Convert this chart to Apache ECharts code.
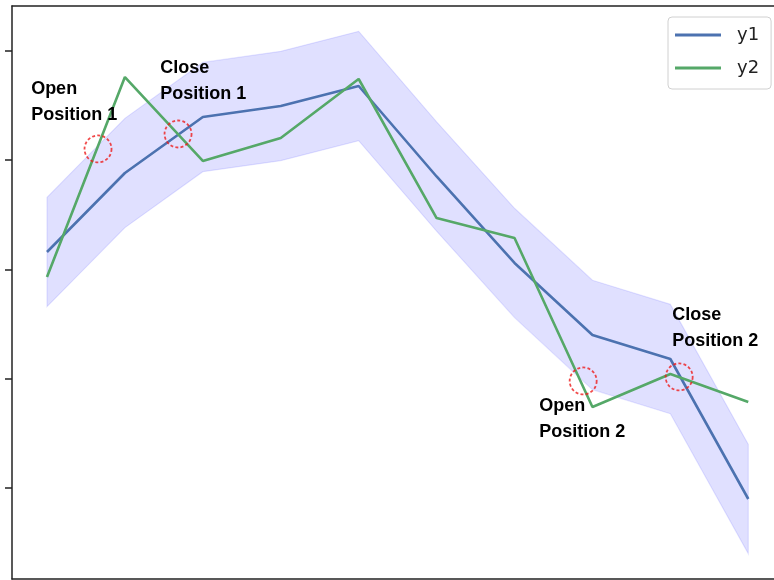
<!DOCTYPE html>
<html><head><meta charset="utf-8">
<script src="https://cdn.jsdelivr.net/npm/echarts@6/dist/echarts.min.js"></script>
<style>html,body{margin:0;padding:0;background:#fff}#c{width:774px;height:580px}</style>
</head><body><div id="c"></div>
<script>
// ---- data ----
const xs = [0, 1, 2, 3, 4, 5, 6, 7, 8, 9];
const y1 = [2.159, 2.882, 3.394, 3.495, 3.678, 2.85, 2.059, 1.40, 1.18, -0.101];
const y2 = [1.930, 3.760, 2.992, 3.202, 3.742, 2.470, 2.287, 0.741, 1.043, 0.787];
const bandHalf = [0.5];
const yTicks = [0, 1, 2, 3, 4];
const eventX = [0.655, 1.682, 6.881, 8.113];
const eventY = [3.102, 3.239, 0.979, 1.016];
const eventText = ['Open\nPosition 1', 'Close\nPosition 1', 'Open\nPosition 2', 'Close\nPosition 2'];
const seriesNames = ['y1', 'y2'];

// ---- styling ----
const labelOffsets = [[-66, -72], [-17, -78], [-43, 13], [-6, -74]];
const symSize = 27;
const spine = {show: true, onZero: false, lineStyle: {color: '#222', width: 1.5}};

const chart = echarts.init(document.getElementById('c'), null, {renderer: 'canvas'});
const bandData = xs.map((x, i) => [x, y1[i] - bandHalf[0], y1[i] + bandHalf[0]]);

chart.setOption({
  animation: false,
  grid: {left: 12, top: 6, right: 0, bottom: 1, show: false},
  xAxis: [
    {type: 'value', min: -0.449, max: 9.33, position: 'bottom',
      axisLine: spine, axisTick: {show: false}, axisLabel: {show: false}, splitLine: {show: false}},
    {type: 'value', min: -0.449, max: 9.33, position: 'top',
      axisLine: spine, axisTick: {show: false}, axisLabel: {show: false}, splitLine: {show: false}}
  ],
  yAxis: {type: 'value', min: -0.833, max: 4.41,
    axisLine: spine,
    axisTick: {show: true, customValues: yTicks, length: 7, inside: false, lineStyle: {color: '#222', width: 1.5}},
    axisLabel: {show: false}, splitLine: {show: false}},
  legend: {
    data: seriesNames.map(n => ({name: n, icon: 'rect'})), orient: 'vertical', left: 668, top: 17,
    padding: [7, 12, 10, 7], itemWidth: 46, itemHeight: 3, itemGap: 11,
    backgroundColor: 'rgba(255,255,255,0.8)', borderColor: '#d0d0d0', borderWidth: 1, borderRadius: 4,
    textStyle: {fontFamily: 'DejaVu Sans', fontSize: 18, lineHeight: 22, color: '#222', padding: [0, 0, 0, 11]}
  },
  series: [
    {
      type: 'custom', name: 'band', silent: true, z: 1,
      data: bandData, encode: {x: 0, y: [1, 2]},
      renderItem: function (params, api) {
        if (params.dataIndex !== 0) return null;
        const pts = [];
        for (let i = 0; i < bandData.length; i++) pts.push(api.coord([bandData[i][0], bandData[i][2]]));
        for (let i = bandData.length - 1; i >= 0; i--) pts.push(api.coord([bandData[i][0], bandData[i][1]]));
        return {type: 'polygon', shape: {points: pts},
          style: {fill: 'rgba(0,0,255,0.12)', stroke: 'rgba(0,0,255,0.10)', lineWidth: 1.2}};
      }
    },
    {
      type: 'line', name: 'y1', z: 3, symbol: 'none', showSymbol: false,
      data: xs.map((x, i) => [x, y1[i]]),
      lineStyle: {color: '#4c72b0', width: 2.6}, itemStyle: {color: '#4c72b0'}
    },
    {
      type: 'line', name: 'y2', z: 3, symbol: 'none', showSymbol: false,
      data: xs.map((x, i) => [x, y2[i]]),
      lineStyle: {color: '#55a868', width: 2.6}, itemStyle: {color: '#55a868'}
    },
    {
      type: 'scatter', name: 'events', z: 4, silent: true,
      symbol: 'circle', symbolSize: symSize,
      itemStyle: {color: 'rgba(0,0,0,0)', borderColor: '#ee1c1c', borderWidth: 1.8, borderType: [3, 2.2]},
      data: eventX.map((x, i) => ({
        value: [x, eventY[i]],
        label: {
          show: true, formatter: eventText[i],
          position: [labelOffsets[i][0] + symSize / 2, labelOffsets[i][1] + symSize / 2],
          fontFamily: 'Liberation Sans', fontWeight: 'bold',
          fontSize: 18, lineHeight: 26, color: '#000', opacity: 1, align: 'left', verticalAlign: 'top'
        }
      }))
    }
  ]
});
</script>
</body></html>
